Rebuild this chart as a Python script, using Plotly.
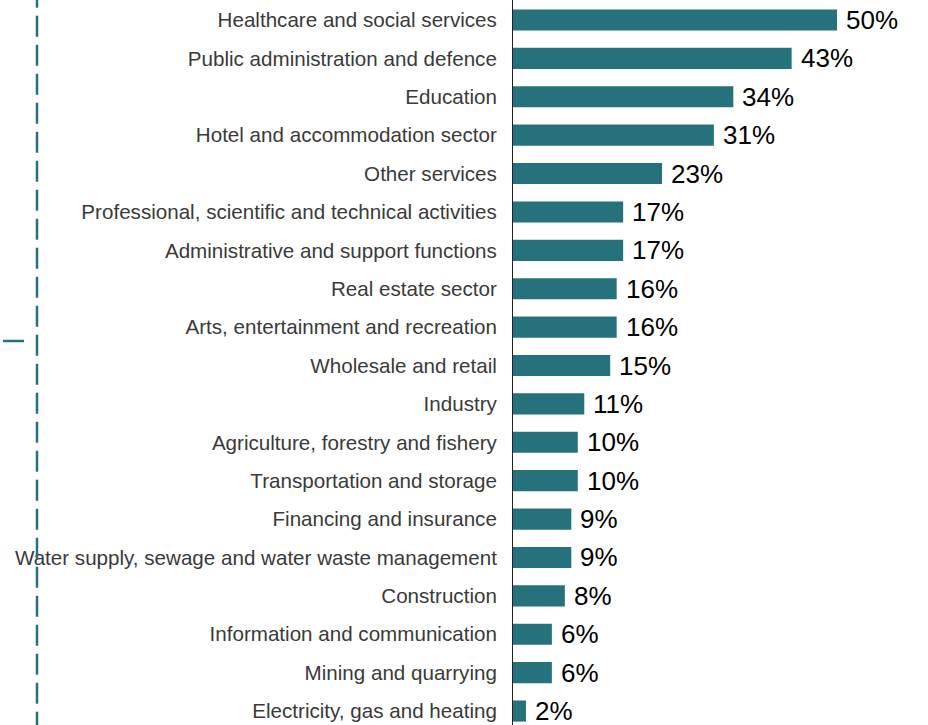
import plotly.graph_objects as go

# Share of employees by sector (%)
sectors = [
    "Healthcare and social services",
    "Public administration and defence",
    "Education",
    "Hotel and accommodation sector",
    "Other services",
    "Professional, scientific and technical activities",
    "Administrative and support functions",
    "Real estate sector",
    "Arts, entertainment and recreation",
    "Wholesale and retail",
    "Industry",
    "Agriculture, forestry and fishery",
    "Transportation and storage",
    "Financing and insurance",
    "Water supply, sewage and water waste management",
    "Construction",
    "Information and communication",
    "Mining and quarrying",
    "Electricity, gas and heating",
]
shares = [50, 43, 34, 31, 23, 17, 17, 16, 16, 15, 11, 10, 10, 9, 9, 8, 6, 6, 2]

TEAL = "#25727d"
FONT = "Liberation Sans, Arial, sans-serif"
W, H = 928, 725
LEFT = 513
PLOT_W = W - LEFT
PX_PER_PCT = 6.48
ROW_PX = 38.39
FIRST_ROW_Y = 20

fig = go.Figure(
    go.Bar(
        x=shares,
        y=sectors,
        orientation="h",
        marker=dict(color=TEAL, line=dict(width=0)),
        width=0.55,
        hoverinfo="skip",
    )
)

# value labels just right of each bar end
for sector, value in zip(sectors, shares):
    fig.add_annotation(
        x=value, y=sector, xref="x", yref="y",
        text=f"{value}%",
        showarrow=False,
        xanchor="left", yanchor="middle",
        xshift=7,
        font=dict(family=FONT, size=26, color="#000000"),
    )

top_val = -FIRST_ROW_Y / ROW_PX
bottom_val = top_val + H / ROW_PX

# dashed teal guide on the far left and its small horizontal marker
x_guide = (37 - LEFT) / PLOT_W
fig.add_shape(
    type="line", xref="paper", yref="paper",
    x0=x_guide, x1=x_guide, y0=1 + 13.3 / H, y1=-0.02,
    line=dict(color=TEAL, width=2.5, dash="21px,8px"),
)
fig.add_shape(
    type="line", xref="paper", yref="paper",
    x0=(3 - LEFT) / PLOT_W, x1=(24 - LEFT) / PLOT_W,
    y0=1 - 341 / H, y1=1 - 341 / H,
    line=dict(color=TEAL, width=2.5),
)

fig.update_layout(
    width=W,
    height=H,
    margin=dict(l=LEFT, r=0, t=0, b=0),
    plot_bgcolor="white",
    paper_bgcolor="white",
    showlegend=False,
    xaxis=dict(
        range=[0, PLOT_W / PX_PER_PCT],
        visible=False,
        fixedrange=True,
    ),
    yaxis=dict(
        type="category",
        categoryorder="array",
        categoryarray=sectors,
        range=[bottom_val, top_val],
        showline=True,
        linecolor="#222222",
        linewidth=1,
        showgrid=False,
        ticks="outside",
        ticklen=11,
        tickcolor="rgba(0,0,0,0)",
        tickfont=dict(family=FONT, size=20.6, color="#3a3a3a"),
        fixedrange=True,
    ),
)

fig.write_html("out.html")
